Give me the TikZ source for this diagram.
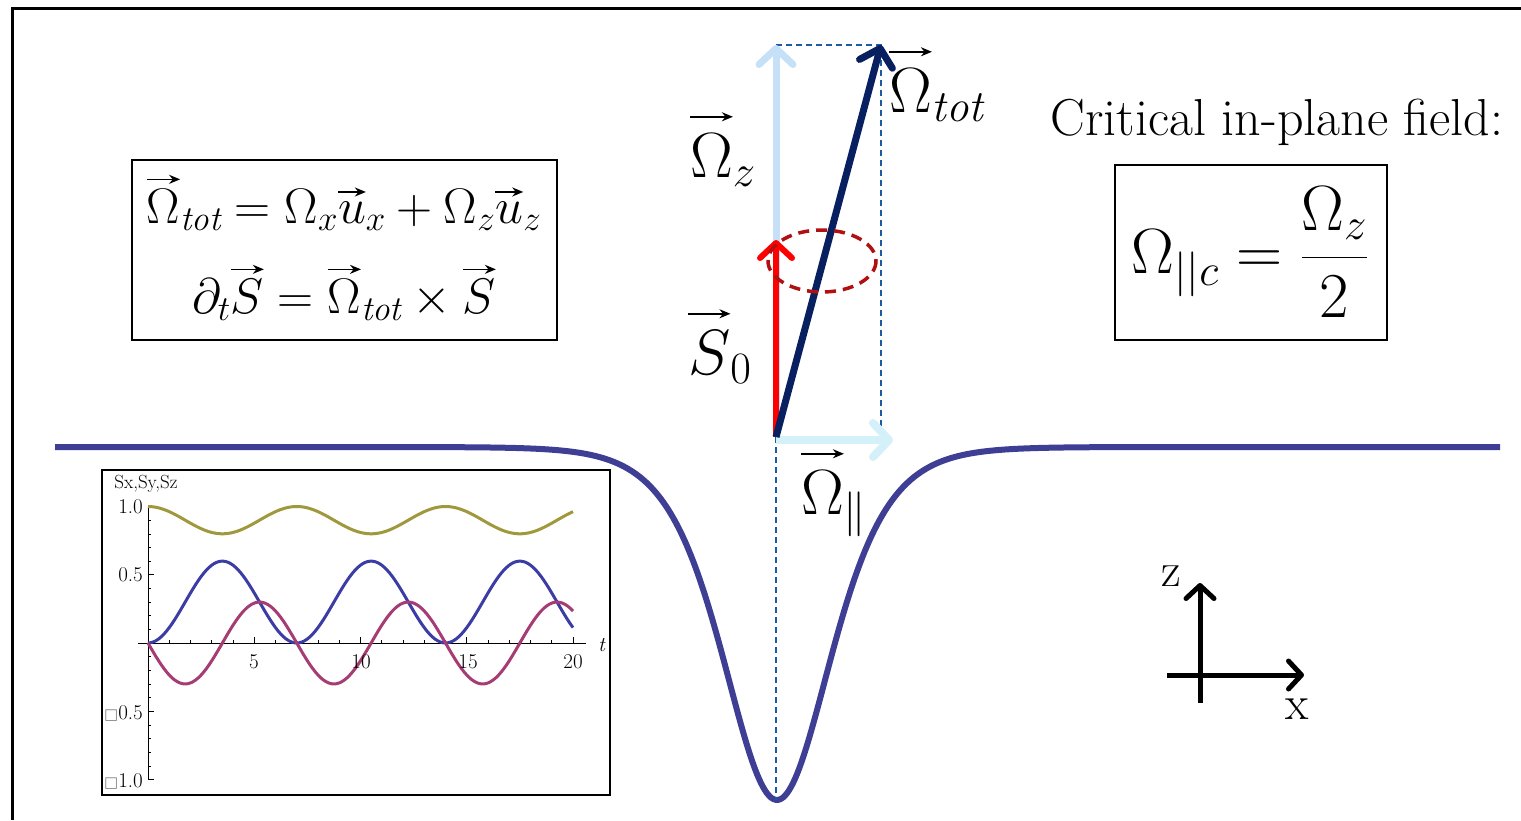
\RequirePackage{fix-cm}
\documentclass[tikz,border=0pt]{standalone}
\usepackage{amsmath}
\usepackage{fontspec}
\newfontfamily\dejavu{DejaVu Sans}
\usetikzlibrary{arrows.meta}
\definecolor{curveblue}{RGB}{62,62,148}
\definecolor{lightblue}{RGB}{198,224,248}
\definecolor{navyc}{RGB}{8,32,96}
\definecolor{cyanlight}{RGB}{212,240,248}
\definecolor{dashblue}{RGB}{30,90,160}
\definecolor{darkredc}{RGB}{176,16,16}
\definecolor{olivec}{RGB}{160,152,60}
\definecolor{sxblue}{RGB}{60,60,165}
\definecolor{symag}{RGB}{165,60,115}
\newdimen\myvecw
\newbox\myvecbox
% #1 gap, #2 arrow line width, #3 symbol
\newcommand\myvec[3]{\mathord{\setbox\myvecbox=\hbox{$\displaystyle#3$}\myvecw=\wd\myvecbox\relax
  \vbox{\offinterlineskip\hbox to\myvecw{\hss\tikz\draw[line width=#2,-{Stealth[length=11pt,width=9pt]}] (0,0) -- (\myvecw,0);\hss}\kern#1\box\myvecbox}}}
\tikzset{
  curvestyle/.style={curveblue, line width=6pt, line join=round},
  vecarrow/.style={line width=7pt, -{Straight Barb[round, length=16pt, width=34pt]}},
  dashln/.style={dashblue, line width=1.5pt, dash pattern=on 6pt off 4pt},
  eqbox/.style={draw=black, line width=1.5pt, inner sep=0pt},
  lbl/.style={inner sep=0pt, font=\fontsize{64}{72}\selectfont},
  eqtext/.style={inner sep=0pt, font=\fontsize{50}{60}\selectfont},
  ticklbl/.style={inner sep=0pt, font=\fontsize{21}{24}\selectfont},
  axarrow/.style={line width=5pt, -{Straight Barb[round, length=13pt, width=28pt]}},
  plotcurve/.style={line width=3pt, line join=round}
}
\begin{document}
\begin{tikzpicture}[x=1pt, y=-1pt]
\useasboundingbox (0,0) rectangle (1521,820);
% frame
\draw[line width=3pt] (12,820) -- (12,8) -- (1521,8);

% main potential curve
\draw[curvestyle] (55,447) -- plot[domain=427:1127, samples=351] ({\x},{447+353/(cosh((\x-777)/72)^2)}) -- (1500,447);

% vector construction
\coordinate (O) at (776,437);
\coordinate (Ztip) at (776,45);
\coordinate (Ttip) at (881,45);
\coordinate (Stip) at (776,240);
\coordinate (Ptip) at (893,440);
\coordinate (Pc) at (881,440);
\coordinate (B) at (776,800);
\coordinate (Pstart) at (776,440);

\draw[dashln] (Ztip) -- (Ttip) -- (Pc);
\draw[dashln] (O) -- (B);
\draw[vecarrow, lightblue] (O) -- (Ztip);
\draw[vecarrow, cyanlight, line width=8pt] (Pstart) -- (Ptip);
\draw[vecarrow, red, line width=6pt, -{Straight Barb[round, length=15pt, width=32pt]}] (O) -- (Stip);
\draw[vecarrow, navyc] (O) -- (Ttip);
\draw[darkredc, line width=3.5pt, dash pattern=on 11pt off 7pt] (822,261) ellipse [x radius=54, y radius=31];

% vector labels
\node[lbl, anchor=base west] (ltot) at (889,112) {$\myvec{12pt}{2.2pt}{\Omega}_{\mathit{tot}}$};
\node[lbl, anchor=base west] (lz) at (690,177) {$\myvec{12pt}{2.2pt}{\Omega}_{z}$};
\node[lbl, anchor=base west] (ls) at (688,374) {$\myvec{12pt}{2.2pt}{S}_{0}$};
\node[lbl, anchor=base west] (lpar) at (801,514) {$\myvec{12pt}{2.2pt}{\Omega}_{\|}$};

% equation box
\node[eqbox, minimum width=425pt, minimum height=180pt] (box1) at (344.5,250) {};
\node[eqtext, anchor=base] (eq1) at (344,223) {$\myvec{5pt}{1.6pt}{\Omega}_{\mathit{tot}} = \Omega_x \myvec{5pt}{1.6pt}{u}_x + \Omega_z \myvec{5pt}{1.6pt}{u}_z$};
\node[eqtext, anchor=base] (eq2) at (344,313) {$\partial_t \myvec{5pt}{1.6pt}{S} = \myvec{5pt}{1.6pt}{\Omega}_{\mathit{tot}} \times \myvec{5pt}{1.6pt}{S}$};

% critical field
\node[inner sep=0pt, font=\fontsize{52}{60}\selectfont] (crit) at (1277,122) {Critical in-plane field:};
\node[eqbox, minimum width=272pt, minimum height=175pt] (box2) at (1251,252.5) {};
\node[eqtext, font=\fontsize{64}{72}\selectfont] (eq3) at (1250,252) {$\Omega_{||c} = \dfrac{\Omega_z}{2}$};

% coordinate axes
\coordinate (zb) at (1200,703);
\coordinate (zt) at (1200,583);
\coordinate (xl) at (1167,675);
\coordinate (xr) at (1304,675);
\draw[axarrow] (zb) -- (zt);
\draw[axarrow] (xl) -- (xr);
\node[inner sep=0pt, font=\fontsize{48}{52}\selectfont] (zlab) at (1171,576) {z};
\node[inner sep=0pt, font=\fontsize{48}{52}\selectfont] (xlab) at (1297,709) {x};

% inset plot
\node[draw, line width=1.5pt, minimum width=508pt, minimum height=325pt, inner sep=0pt] (inset) at (356,632.5) {};
\coordinate (xa0) at (138,643);
\coordinate (xa1) at (586,643);
\coordinate (ya0) at (148,507);
\coordinate (ya1) at (148,780);
\draw[line width=0.8pt] (xa0) -- (xa1);
\draw[line width=0.8pt] (ya0) -- (ya1);
\foreach \t in {1,...,20} \draw[line width=0.6pt] ({148+21.25*\t},643) -- ++(0,-3);
\foreach \t in {5,10,15,20} \draw[line width=0.8pt] ({148+21.25*\t},643) -- ++(0,-6);
\foreach \v in {-10,...,10} \draw[line width=0.6pt] (148,{643-13.65*\v}) -- ++(3,0);
\foreach \v in {-10,-5,5,10} \draw[line width=0.8pt] (148,{643-13.65*\v}) -- ++(6,0);
\draw[plotcurve, olivec] plot[domain=0:20, samples=161] ({148+21.25*\x},{643-136.5*(0.9+0.1*cos(\x*360/7))});
\draw[plotcurve, sxblue] plot[domain=0:20, samples=161] ({148+21.25*\x},{643-136.5*0.3*(1-cos(\x*360/7))});
\draw[plotcurve, symag] plot[domain=0:20, samples=161] ({148+21.25*\x},{643+136.5*0.3*sin(\x*360/7)});
\node[ticklbl, font=\fontsize{19}{22}\selectfont] (plab) at (146,484) {Sx,Sy,Sz};
\node[ticklbl, anchor=east] (y10) at (143,507) {1.0};
\node[ticklbl, anchor=east] (y05) at (143,575) {0.5};
\node[ticklbl, anchor=east] (ym05) at (143,713) {{\dejavu\color{gray}\fontsize{15}{16}\selectfont □}0.5};
\node[ticklbl, anchor=east] (ym10) at (143,781) {{\dejavu\color{gray}\fontsize{15}{16}\selectfont □}1.0};
\node[ticklbl] (x5) at (254,662) {5};
\node[ticklbl] (x10) at (361,662) {10};
\node[ticklbl] (x15) at (468,662) {15};
\node[ticklbl] (x20) at (573,662) {20};
\node[ticklbl] (tlab) at (602,645) {\textit{t}};
\end{tikzpicture}
\end{document}
